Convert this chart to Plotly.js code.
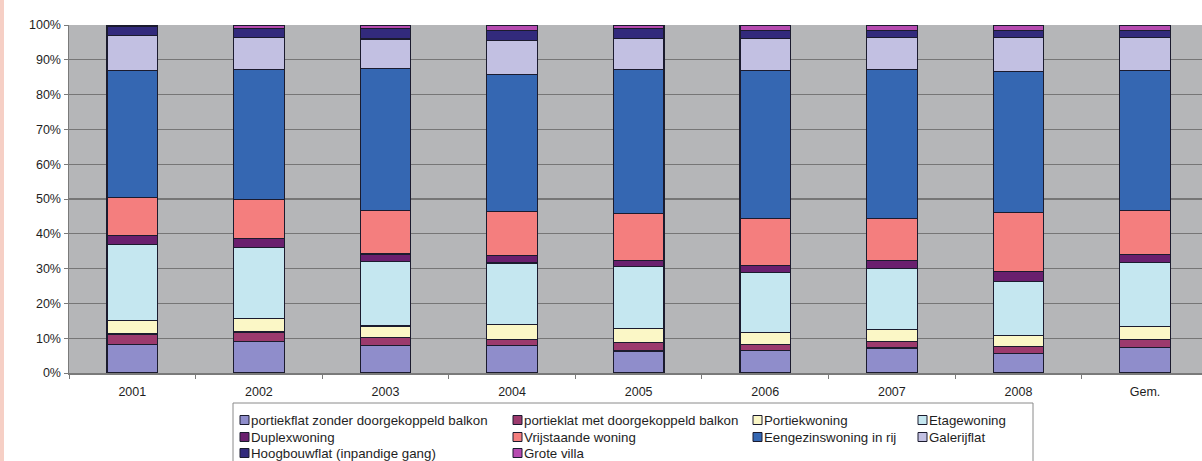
<!DOCTYPE html>
<html>
<head>
<meta charset="utf-8">
<script src="https://cdn.plot.ly/plotly-3.0.1.min.js"></script>
<style>
  html, body { margin: 0; padding: 0; background: #ffffff; overflow: hidden; }
  #edge { position: absolute; left: 0; top: 0; width: 4px; height: 461px; background: #f6cfc5; z-index: 5; }
  #chart { width: 1202px; height: 461px; }
</style>
</head>
<body>
<div id="edge"></div>
<div id="chart"></div>
<script>
// Woningtype-verdeling per jaar (aandeel in %), plus het gemiddelde
const years = ['2001', '2002', '2003', '2004', '2005', '2006', '2007', '2008', 'Gem.'];

const zonderBalkon   = [8.3, 9.0, 7.9, 7.8, 6.3, 6.5, 7.2, 5.5, 7.4];
const metBalkon      = [2.9, 2.8, 2.4, 1.9, 2.5, 1.8, 1.9, 2.2, 2.3];
const portiekwoning  = [4.0, 3.8, 3.2, 4.2, 4.0, 3.3, 3.5, 3.1, 3.6];
const etagewoning    = [21.8, 20.5, 18.6, 17.7, 17.7, 17.2, 17.5, 15.4, 18.5];
const duplexwoning   = [2.4, 2.5, 2.1, 2.2, 1.8, 2.1, 2.2, 2.9, 2.2];
const vrijstaand     = [11.0, 11.2, 12.6, 12.5, 13.6, 13.4, 12.0, 17.0, 12.8];
const eengezinsRij   = [36.6, 37.4, 40.6, 39.4, 41.3, 42.6, 42.8, 40.6, 40.2];
const galerijflat    = [9.9, 9.1, 8.6, 9.8, 9.0, 9.3, 9.2, 9.6, 9.3];
const hoogbouwflat   = [2.8, 2.8, 2.9, 3.0, 2.7, 2.3, 2.2, 2.2, 2.2];
const groteVilla     = [0.3, 0.9, 1.1, 1.5, 1.1, 1.5, 1.5, 1.5, 1.5];

const seriesNames = [
  'portiekflat zonder doorgekoppeld balkon', 'portieklat met doorgekoppeld balkon',
  'Portiekwoning', 'Etagewoning', 'Duplexwoning', 'Vrijstaande woning',
  'Eengezinswoning in rij', 'Galerijflat', 'Hoogbouwflat (inpandige gang)', 'Grote villa'
];
const seriesValues = [
  zonderBalkon, metBalkon, portiekwoning, etagewoning, duplexwoning,
  vrijstaand, eengezinsRij, galerijflat, hoogbouwflat, groteVilla
];
const seriesColors = [
  '#8f8dcb', '#9c3a6d', '#fbf7c6', '#c5e7f0', '#6a1f6e',
  '#f47e7e', '#3567b2', '#c2c0e2', '#322a7c', '#b64bb0'
];

// Plot area in pixels (the key grid beneath it is placed relative to it)
const W = 1202, H = 461;
const plotL = 69, plotT = 25, plotB = 373;
const plotW = W - plotL, plotH = plotB - plotT;
const px = x => (x - plotL) / plotW;
const py = y => (plotB - y) / plotH;

// Key grid: 4 columns of unequal width, 3 rows, filled row by row
const colX = [240, 513, 753, 918];
const rowY = [420, 437, 453];
const swatch = 9;
const keyFont = { family: 'Liberation Sans, Arial, sans-serif', size: 13.3, color: '#1e1e1e' };

const edgeColor = '#1b1b2e';

const traces = seriesNames.map((name, i) => ({
  type: 'bar',
  name: name,
  x: years,
  y: seriesValues[i],
  marker: { color: seriesColors[i], line: { color: edgeColor, width: 1.2 } },
  hoverinfo: 'x+y+name'
}));

const shapes = [{
  type: 'rect', xref: 'paper', yref: 'paper',
  x0: px(233), x1: px(1033), y0: py(403), y1: py(480),
  line: { color: '#8a8a8a', width: 1 }, fillcolor: '#ffffff', layer: 'below'
}];
const annotations = [];

seriesNames.forEach((name, i) => {
  const c = i % 4, r = Math.floor(i / 4);
  const x0 = colX[c], yc = rowY[r];
  shapes.push({
    type: 'rect', xref: 'paper', yref: 'paper',
    x0: px(x0), x1: px(x0 + swatch),
    y0: py(yc - swatch / 2), y1: py(yc + swatch / 2),
    fillcolor: seriesColors[i], line: { color: edgeColor, width: 1 }
  });
  annotations.push({
    xref: 'paper', yref: 'paper',
    x: px(x0 + swatch), y: py(yc),
    xanchor: 'left', yanchor: 'middle',
    text: name, showarrow: false, font: keyFont
  });
});

const layout = {
  width: W,
  height: H,
  margin: { l: plotL, r: 0, t: plotT, b: H - plotB, autoexpand: false },
  paper_bgcolor: '#ffffff',
  plot_bgcolor: '#b5b6b8',
  barmode: 'stack',
  bargap: 0.6,
  showlegend: false,
  font: { family: 'Liberation Sans, Arial, sans-serif', size: 12.5, color: '#1e1e1e' },
  xaxis: {
    type: 'category',
    range: [-0.5, 8.45],
    showline: true, linecolor: '#7a7a7a', linewidth: 1.5,
    ticks: 'outside', tickson: 'boundaries', ticklen: 4, tickcolor: '#7a7a7a',
    ticklabelstandoff: 6,
    showgrid: false, zeroline: false, fixedrange: true
  },
  yaxis: {
    range: [0, 100],
    dtick: 10,
    ticksuffix: '%',
    showline: true, linecolor: '#7a7a7a', linewidth: 1.5,
    ticks: 'outside', ticklen: 4, tickcolor: '#7a7a7a',
    showgrid: true, gridcolor: '#767676', gridwidth: 1.3,
    zeroline: false, fixedrange: true
  },
  shapes: shapes,
  annotations: annotations
};

Plotly.newPlot('chart', traces, layout, { displayModeBar: false, staticPlot: true });
</script>
</body>
</html>
